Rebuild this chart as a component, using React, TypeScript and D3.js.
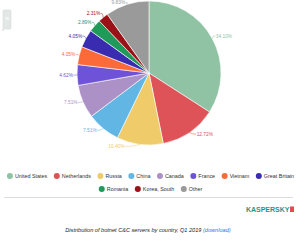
import React, { useEffect, useRef } from "react";
import * as d3 from "d3";

const countries = [
  "United States",
  "Netherlands",
  "Russia",
  "China",
  "Canada",
  "France",
  "Vietnam",
  "Great Britain",
  "Romania",
  "Korea, South",
  "Other",
];
const shares = [34.1, 12.72, 10.4, 7.51, 7.51, 4.62, 4.05, 4.05, 2.89, 2.31, 9.83];
const colors = [
  "#8fc3a3",
  "#dd5357",
  "#f0cb6a",
  "#62b6e4",
  "#ab91c6",
  "#6e53d9",
  "#fd6a3a",
  "#3a2cb1",
  "#1f9a58",
  "#9a1118",
  "#9a9a9a",
];
const legendRows = [
  ["United States", "Netherlands", "Russia", "China", "Canada", "France", "Vietnam", "Great Britain"],
  ["Romania", "Korea, South", "Other"],
];

const App: React.FC = () => {
  const ref = useRef<SVGSVGElement>(null);

  useEffect(() => {
    drawChart();
  }, []);

  const drawChart = () => {
    const svg = d3.select(ref.current);
    svg.selectAll("*").remove();
    const font = "'Liberation Sans', Arial, sans-serif";

    const cx = 149;
    const cy = 73;
    const r = 72;

    const data = countries.map((c, i) => ({ name: c, value: shares[i], color: colors[i] }));
    const pie = d3
      .pie<any>()
      .sort(null)
      .value((d) => d.value);
    const arc = d3.arc<any>().innerRadius(0).outerRadius(r);
    const arcs = pie(data);

    const g = svg.append("g").attr("transform", `translate(${cx},${cy})`);

    g.selectAll("path.slice")
      .data(arcs)
      .enter()
      .append("path")
      .attr("class", "slice")
      .attr("d", arc)
      .attr("fill", (d) => d.data.color)
      .attr("stroke", "#fff")
      .attr("stroke-width", 0.6);

    // data labels with small connectors
    arcs.forEach((d) => {
      const a = (d.startAngle + d.endAngle) / 2;
      const s = Math.sin(a);
      const c = Math.cos(a);
      const side = s >= 0 ? 1 : -1;
      const lower = c < 0;
      let lx: number;
      let ly: number;
      if (lower) {
        lx = (r + 3) * s + side * (1 + 4 * Math.abs(c) + 11 * Math.pow(Math.abs(c), 12));
        ly = -(r + 2) * c;
      } else {
        lx = (r + 3) * s + side * 1;
        ly = Math.max(-(r + 5) * c, -cy + 2.6);
      }
      const ex = r * s;
      const ey = -r * c;
      const mx = lx - side * 2;
      g.append("path")
        .attr("d", `M${ex},${ey}Q${(ex + mx) / 2},${ly} ${mx},${ly}L${lx - side * 0.5},${ly}`)
        .attr("fill", "none")
        .attr("stroke", d.data.color)
        .attr("stroke-width", 0.5);
      g.append("text")
        .attr("x", lx)
        .attr("y", ly)
        .attr("dy", "0.35em")
        .attr("text-anchor", side > 0 ? "start" : "end")
        .attr("font-family", font)
        .attr("font-size", 4.8)
        .attr("fill", d.data.color)
        .text(d.data.value.toFixed(2) + "%");
    });

    // legend
    const legendY = [176, 189];
    legendRows.forEach((row, ri) => {
      const items = row.map((name) => {
        const t = svg
          .append("text")
          .attr("font-family", font)
          .attr("font-size", 5.4)
          .attr("font-weight", 500)
          .attr("fill", "#333")
          .attr("y", legendY[ri])
          .attr("dy", "0.35em")
          .text(name);
        const w = (t.node() as SVGTextElement).getComputedTextLength();
        return { name, t, w };
      });
      const gap = 7.5;
      const total = d3.sum(items, (it) => it.w + 7) + gap * (items.length - 1);
      let x = 150 - total / 2;
      items.forEach((it) => {
        const ci = countries.indexOf(it.name);
        svg
          .append("circle")
          .attr("cx", x + 3)
          .attr("cy", legendY[ri])
          .attr("r", 3)
          .attr("fill", colors[ci]);
        it.t.attr("x", x + 8);
        x += it.w + 7 + gap;
      });
    });

    // rule
    svg
      .append("line")
      .attr("x1", 4)
      .attr("x2", 293)
      .attr("y1", 197.5)
      .attr("y2", 197.5)
      .attr("stroke", "#ddd")
      .attr("stroke-width", 1);

    // logo
    svg
      .append("text")
      .attr("x", 289.5)
      .attr("y", 212)
      .attr("text-anchor", "end")
      .attr("font-family", font)
      .attr("font-size", 7)
      .attr("font-weight", 700)
      .attr("fill", "#1a9a86")
      .text("KASPERSKY");
    svg.append("rect").attr("x", 290).attr("y", 206.5).attr("width", 4).attr("height", 5.5).attr("fill", "#e8484f");

    // caption
    const cap = svg
      .append("text")
      .attr("x", 148)
      .attr("y", 232)
      .attr("text-anchor", "middle")
      .attr("font-family", font)
      .attr("font-size", 5.6)
      .attr("font-style", "italic")
      .attr("fill", "#222");
    cap.append("tspan").text("Distribution of botnet C&C servers by country, Q1 2019 ");
    cap.append("tspan").attr("fill", "#2a7ae2").text("(download)");

    // side share button
    svg
      .append("rect")
      .attr("x", 3)
      .attr("y", 10)
      .attr("width", 8)
      .attr("height", 19)
      .attr("rx", 1)
      .attr("fill", "#e3e8e6")
      .attr("stroke", "#cfd6d3")
      .attr("stroke-width", 0.5);
    svg
      .append("text")
      .attr("x", 7)
      .attr("y", 21)
      .attr("text-anchor", "middle")
      .attr("font-family", font)
      .attr("font-size", 8)
      .attr("fill", "#fff")
      .text("\u00bb");
    svg.append("line").attr("x1", 3).attr("x2", 3).attr("y1", 29).attr("y2", 31).attr("stroke", "#aaa").attr("stroke-width", 0.5);
  };

  return (
    <svg
      ref={ref}
      width={300}
      height={242}
      style={{ position: "absolute", left: 0, top: 0, display: "block", background: "#fff" }}
    />
  );
};

export default App;
